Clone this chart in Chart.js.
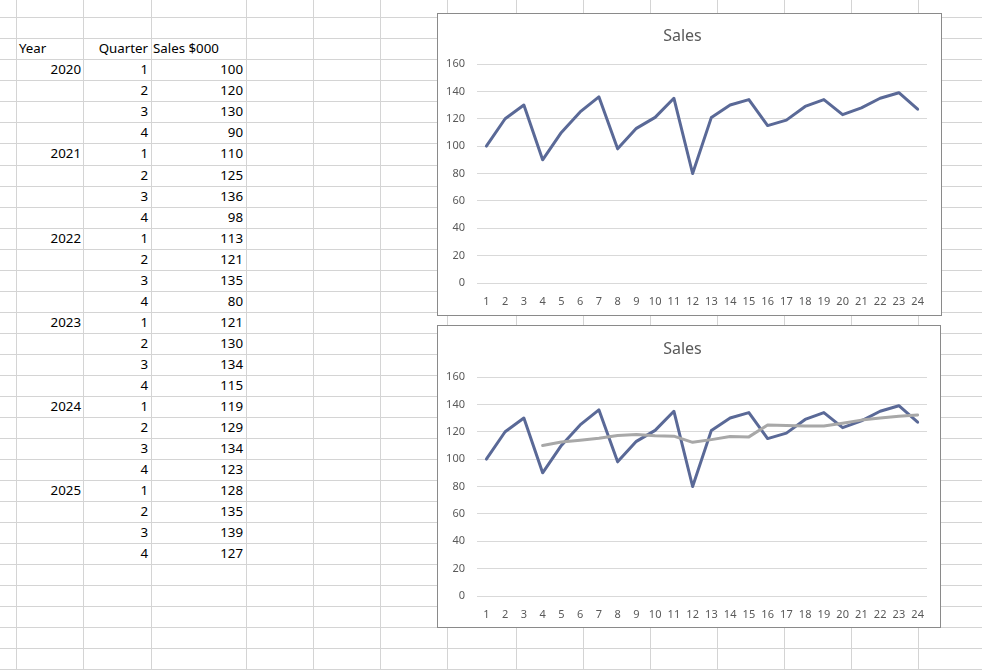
<!DOCTYPE html>
<html>
<head>
<meta charset="utf-8">
<script src="https://cdn.jsdelivr.net/npm/chart.js@4.4.1/dist/chart.umd.min.js"></script>
<style>
    html, body { margin: 0; padding: 0; background: #fff; }
    #sheet { position: relative; width: 982px; height: 670px; overflow: hidden; font-family: "Noto Sans", sans-serif; font-size: 13.3px; color: #000; }
    .hl { position: absolute; left: 0; width: 982px; height: 1px; background: #d4d4d4; }
    .vl { position: absolute; top: 0; width: 1px; height: 670px; background: #d4d4d4; }
    .cell { position: absolute; height: 21px; line-height: 21px; white-space: nowrap; }
    .box { position: absolute; box-sizing: border-box; border: 1px solid #8a8a8a; background: #fff; }
    .box canvas { display: block; }
</style>
</head>
<body>
<div id="sheet">
    <div id="grid"></div>
    <div id="cells"></div>
    <div class="box" style="left:437px; top:13px; width:505px; height:303px;"><canvas id="chart1" width="503" height="301"></canvas></div>
    <div class="box" style="left:437px; top:325px; width:504px; height:303px;"><canvas id="chart2" width="502" height="301"></canvas></div>
</div>
<script>
// spreadsheet data
const headers = ['Year', 'Quarter', 'Sales $000'];
const years = ['2020', '', '', '', '2021', '', '', '', '2022', '', '', '', '2023', '', '', '', '2024', '', '', '', '2025', '', '', ''];
const quarters = [1, 2, 3, 4, 1, 2, 3, 4, 1, 2, 3, 4, 1, 2, 3, 4, 1, 2, 3, 4, 1, 2, 3, 4];
const sales = [100, 120, 130, 90, 110, 125, 136, 98, 113, 121, 135, 80, 121, 130, 134, 115, 119, 129, 134, 123, 128, 135, 139, 127];

// chart data
const periods = ['1', '2', '3', '4', '5', '6', '7', '8', '9', '10', '11', '12', '13', '14', '15', '16', '17', '18', '19', '20', '21', '22', '23', '24'];
const movingAvg = [null, null, null, 110, 112.5, 113.75, 115.25, 117.25, 118, 117, 116.75, 112.25, 114.25, 116.5, 116.25, 125, 124.5, 124.25, 124.25, 126.25, 128.5, 130, 131.25, 132.25];
const yTicks = { min: 0, max: 160, step: 20 };
const chartTitle = 'Sales';

// sheet grid
const colLines = [16, 83, 151, 246, 313, 380, 447, 516, 583, 650, 717, 784, 851, 918, 985];
const rowTop = 17.3, rowH = 21.03;
const grid = document.getElementById('grid');
colLines.forEach(x => {
    const d = document.createElement('div'); d.className = 'vl'; d.style.left = x + 'px'; grid.appendChild(d);
});
for (let i = 0; i < 32; i++) {
    const d = document.createElement('div'); d.className = 'hl'; d.style.top = Math.round(rowTop + i * rowH) + 'px'; grid.appendChild(d);
}

const cells = document.getElementById('cells');
const addCell = (text, row, left, right, align) => {
    const d = document.createElement('div');
    d.className = 'cell';
    d.textContent = text;
    d.style.top = (rowTop + row * rowH) + 'px';
    d.style.left = left + 'px';
    d.style.width = (right - left) + 'px';
    d.style.textAlign = align;
    cells.appendChild(d);
};
addCell(headers[0], 1, 19, 83, 'left');
addCell(headers[1], 1, 83, 148, 'right');
addCell(headers[2], 1, 153, 246, 'left');
sales.forEach((v, i) => {
    addCell(years[i], i + 2, 16, 81, 'right');
    addCell(String(quarters[i]), i + 2, 83, 148, 'right');
    addCell(String(v), i + 2, 151, 243, 'right');
});

// charts
const fontFamily = '"Noto Sans", sans-serif';
const axisColor = '#595959';

const makeChart = (id, datasets, lay) => new Chart(document.getElementById(id), {
    type: 'line',
    data: { labels: periods, datasets: datasets },
    options: {
        responsive: false, animation: false,
        layout: { padding: { left: 0, right: lay.right, top: 0, bottom: 0 } },
        plugins: {
            legend: { display: false }, tooltip: { enabled: false },
            title: { display: true, text: chartTitle, color: axisColor, font: { family: fontFamily, size: 16, weight: 'normal' }, padding: { top: lay.titleTop, bottom: lay.titleBottom } }
        },
        scales: {
            x: {
                type: 'category', offset: true,
                grid: { display: false }, border: { display: false },
                ticks: { color: axisColor, font: { family: fontFamily, size: 11 }, padding: 4, autoSkip: false, maxRotation: 0 },
                afterFit: s => { s.height = lay.xh; }
            },
            y: {
                min: yTicks.min, max: yTicks.max,
                grid: { color: '#d9d9d9', drawTicks: false }, border: { display: false },
                ticks: { stepSize: yTicks.step, color: axisColor, font: { family: fontFamily, size: 11 }, padding: 12 },
                afterFit: s => { s.width = 39; }
            }
        },
        elements: { point: { radius: 0 }, line: { tension: 0, borderWidth: 3, borderJoinStyle: 'round', borderCapStyle: 'round' } }
    }
});

const salesLine = () => ({ data: sales, borderColor: '#5a6997', backgroundColor: '#5a6997', fill: false });

makeChart('chart1', [salesLine()], { right: 14, titleTop: 13, titleBottom: 17.8, xh: 32 });
makeChart('chart2', [
    { data: movingAvg, borderColor: '#a8a8a8', backgroundColor: '#a8a8a8', fill: false },
    salesLine()
], { right: 13, titleTop: 13.8, titleBottom: 18, xh: 31 });
</script>
</body>
</html>
